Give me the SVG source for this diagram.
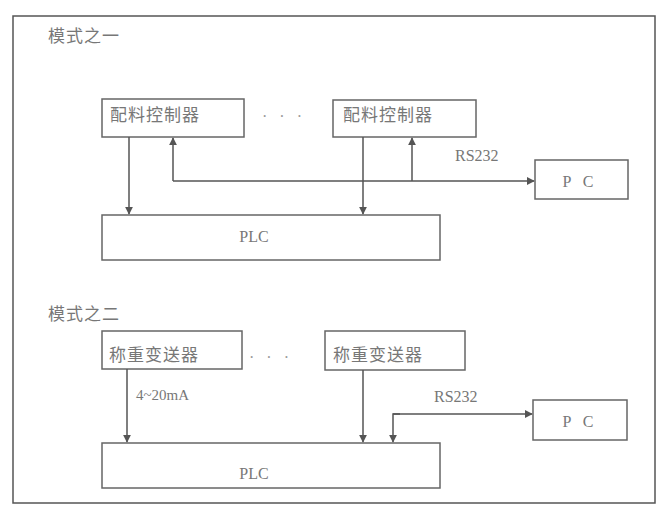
<svg xmlns="http://www.w3.org/2000/svg" width="665" height="513" viewBox="0 0 665 513">
<defs>
<marker id="ah" viewBox="0 0 10 10" refX="9" refY="5" markerWidth="8" markerHeight="8" markerUnits="userSpaceOnUse" orient="auto">
<path d="M0,0 L10,5 L0,10 z" fill="#555"/>
</marker>
<style>
.box{fill:#fff;stroke:#666;stroke-width:1.5}
.ln{fill:none;stroke:#555;stroke-width:1.5}
.t{font-family:"Liberation Serif","Noto Sans CJK SC",serif;font-size:16px;fill:#777}
.c{font-family:"Noto Sans CJK SC",sans-serif;font-size:17px;fill:#777;letter-spacing:1px}
.dots{font-family:"Liberation Serif",serif;font-size:16px;fill:#999;letter-spacing:12px}
</style>
</defs>
<rect width="665" height="513" fill="#fff"/>
<rect x="13" y="16" width="642" height="487" fill="none" stroke="#555" stroke-width="1.5"/>
<text class="c" x="48" y="42">模式之一</text>
<text class="c" x="48" y="320">模式之二</text>
<g id="ctrl1"><rect class="box" x="102" y="99" width="142" height="38"/><text class="c" x="110" y="121">配料控制器</text></g>
<text class="dots" x="262" y="122">···</text>
<g id="ctrl2"><rect class="box" x="333" y="100" width="143" height="37"/><text class="c" x="343" y="121">配料控制器</text></g>
<g id="pc1"><rect class="box" x="535" y="160" width="93" height="39"/><text class="t" x="567" y="187" text-anchor="middle">P</text><text class="t" x="588" y="187" text-anchor="middle">C</text></g>
<g id="plc1"><rect class="box" x="102" y="215" width="338" height="45"/><text class="t" x="254" y="242" text-anchor="middle">PLC</text></g>
<g id="tx1"><rect class="box" x="102" y="331" width="140" height="38"/><text class="c" x="109" y="361">称重变送器</text></g>
<text class="dots" x="249" y="363">···</text>
<g id="tx2"><rect class="box" x="325" y="331" width="140" height="39"/><text class="c" x="333" y="361">称重变送器</text></g>
<g id="pc2"><rect class="box" x="533" y="400" width="94" height="40"/><text class="t" x="567" y="427" text-anchor="middle">P</text><text class="t" x="588" y="427" text-anchor="middle">C</text></g>
<g id="plc2"><rect class="box" x="102" y="443" width="338" height="45"/><text class="t" x="254" y="479" text-anchor="middle">PLC</text></g>
<g id="connectors">
<line class="ln" x1="129" y1="137" x2="129" y2="214" marker-end="url(#ah)"/>
<line class="ln" x1="363" y1="137" x2="363" y2="214" marker-end="url(#ah)"/>
<line class="ln" x1="173" y1="181" x2="173" y2="138" marker-end="url(#ah)"/>
<line class="ln" x1="412" y1="181" x2="412" y2="138" marker-end="url(#ah)"/>
<line class="ln" x1="173" y1="181" x2="534" y2="181" marker-end="url(#ah)"/>
<line class="ln" x1="127" y1="369" x2="127" y2="442" marker-end="url(#ah)"/>
<line class="ln" x1="363" y1="370" x2="363" y2="442" marker-end="url(#ah)"/>
<line class="ln" x1="393" y1="414" x2="532" y2="414" marker-end="url(#ah)"/>
<polyline class="ln" points="400,414 393,414 393,442" marker-end="url(#ah)"/>
<text class="t" x="455" y="161">RS232</text>
<text class="t" x="434" y="402">RS232</text>
<text class="t" x="136" y="400" style="font-size:15px">4~20mA</text>
</g>
</svg>
